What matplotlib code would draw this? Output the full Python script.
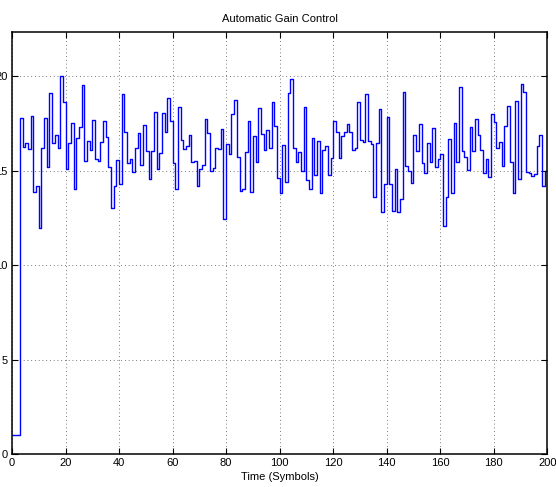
import numpy as np
import matplotlib
matplotlib.use("Agg")
from matplotlib import pyplot as plt

# AGC gain per symbol
gain_start = [1.0, 1.0, 1.0]
gain_a = [17.8, 16.27, 16.48, 16.15, 17.88, 13.85, 14.17, 11.98, 16.18, 17.77,
          15.18, 19.13, 16.45, 16.9, 16.2, 20.0, 18.64, 15.1, 16.48, 17.54,
          14.03, 16.73, 17.3, 19.54, 15.5, 16.6]
gain_b = [16.08, 17.69, 15.6, 15.5, 16.54, 17.65, 16.77, 15.18, 13.04, 14.22,
          15.57, 14.3, 19.08, 17.05, 15.39, 15.6, 14.96, 16.18, 16.98, 15.32,
          17.44, 16.04, 14.54, 16.04, 18.13, 15.12, 15.92, 18.06]
gain_c = [17.08, 18.83, 17.61, 15.42, 14.03, 18.39, 16.64, 16.15, 16.29, 16.87,
          15.46, 15.53, 14.19, 15.07, 15.28, 17.74, 16.98, 15.0, 15.14, 16.22,
          16.15, 17.23, 12.46, 16.4, 15.9, 17.99, 18.73, 15.72, 13.94]
gain_d = [14.06, 16.0, 17.63, 13.9, 16.86, 15.44, 18.3, 16.96, 16.08, 17.14,
          16.18, 18.62, 17.37, 14.6, 13.8, 16.34, 14.4, 19.12, 19.84, 16.22,
          15.48, 15.99, 15.0, 18.4, 14.5, 14.06, 16.75, 14.8]
gain_e = [16.6, 13.8, 16.08, 16.29, 14.8, 15.7, 17.61, 17.05, 15.67, 16.82,
          17.05, 17.47, 17.05, 16.1, 16.2, 18.64, 16.63, 16.5, 19.05, 16.57,
          16.4, 13.62, 16.47, 18.25, 12.84, 14.28, 17.84, 14.28]
gain_f = [12.88, 15.09, 12.84, 13.53, 19.15, 15.27, 14.98, 14.35, 16.87, 16.04,
          17.46, 15.39, 14.86, 16.45, 15.48, 17.24, 15.18, 15.65, 15.87, 12.1,
          13.6, 16.68, 13.8, 17.53, 15.44, 19.42, 16.04, 15.74, 15.05]
gain_g = [17.31, 16.06, 17.74, 16.87, 16.1, 14.86, 15.6, 14.66, 17.99, 17.6,
          16.22, 16.52, 15.23, 17.37, 18.43, 15.48, 13.83, 18.67, 14.58, 19.61,
          19.15, 14.91, 14.86, 14.72, 14.84, 16.29, 16.9, 14.22, 15.0]

gain = np.array(gain_start + gain_a + gain_b + gain_c + gain_d + gain_e + gain_f + gain_g)
n = np.arange(len(gain))

plt.rcParams['font.family'] = ['Liberation Sans', 'DejaVu Sans']

fig = plt.figure(figsize=(5.56, 4.87), dpi=100)
ax = fig.add_axes([12/556, 33/487, 535.3/556, 422/487])

ax.step(n, gain, where='post', color=(0, 0, 1), lw=1.0)

ax.set_xlim(0, 200)
ax.set_ylim(0, 22.35)
ax.set_xticks(np.arange(0, 201, 20))
ax.set_yticks(np.arange(0, 21, 5))
ax.grid(True, color='0.3', linestyle=(0, (1, 3.5)), lw=0.6)
ax.tick_params(direction='in', length=4, width=0.8, top=True, right=True,
               labelsize=8, pad=3)
for s in ax.spines.values():
    s.set_linewidth(1.1)

ax.set_title('Automatic Gain Control', fontsize=8, pad=7)
ax.set_xlabel('Time (Symbols)', fontsize=8, labelpad=3)

fig.savefig('out.png', dpi=100)
